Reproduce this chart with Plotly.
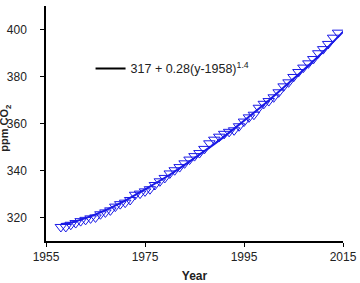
import plotly.graph_objects as go

years = list(range(1958, 2015))
co2 = [315.97, 315.97, 316.91, 317.64, 318.45, 318.99, 319.62, 320.04, 321.38, 322.16,
       323.04, 324.62, 325.68, 326.32, 327.45, 329.68, 330.18, 331.11, 332.04, 333.83,
       335.40, 336.84, 338.75, 340.11, 341.45, 343.05, 344.65, 346.12, 347.42, 349.19,
       351.57, 353.12, 354.39, 355.61, 356.45, 357.10, 358.83, 360.82, 362.61, 363.73,
       366.70, 368.38, 369.55, 371.14, 373.28, 375.80, 377.52, 379.80, 381.90, 383.79,
       385.60, 387.43, 389.90, 391.65, 393.85, 396.52, 398.65]

# smooth curve
curve_years = [1958, 1960, 1965, 1970, 1975, 1980, 1985, 1990, 1995, 2000, 2005, 2010, 2015]
curve_vals = [317.2, 317.8, 321.3, 326.1, 332.0, 338.2, 345.3, 352.8, 361.2, 369.8, 379.0, 388.5, 399.0]

fit_label = "317 + 0.28(y-1958)<sup>1.4</sup>"
x_ticks = [1955, 1975, 1995, 2015]
y_ticks = [320, 340, 360, 380, 400]

blue = "#1a1ae6"
fig = go.Figure()
fig.add_trace(go.Scatter(
    x=years, y=co2, mode="markers",
    marker=dict(symbol="triangle-down-open", size=10, color=blue, line=dict(width=1)),
    showlegend=False,
))
fig.add_trace(go.Scatter(
    x=curve_years, y=curve_vals, mode="lines", line=dict(color=blue, width=2, shape="spline"),
    showlegend=False,
))
fig.add_trace(go.Scatter(
    x=[None], y=[None], mode="lines", line=dict(color="black", width=2),
    name=fit_label, showlegend=True,
))

axis_common = dict(
    showgrid=False, zeroline=False, showline=True, linecolor="black", linewidth=1.5,
    ticks="outside", ticklen=4, tickcolor="black", tickwidth=1, automargin=False,
    tickfont=dict(family="Arial, Liberation Sans", size=12, color="#222"),
)
fig.update_layout(
    width=360, height=283,
    margin=dict(l=46, r=17, t=6, b=42),
    paper_bgcolor="white", plot_bgcolor="white",
    font=dict(family="Arial, Liberation Sans", size=12, color="#222"),
    xaxis=dict(range=[1955, 2015], tickvals=x_ticks,
               title=dict(text="<b>Year</b>", font=dict(size=12), standoff=10), **axis_common),
    yaxis=dict(range=[310, 410], tickvals=y_ticks, ticklabelstandoff=11, **axis_common),
    legend=dict(x=0.15, y=0.732, xanchor="left", yanchor="middle",
                bgcolor="rgba(0,0,0,0)", font=dict(size=12.5), itemwidth=30),
    annotations=[dict(text="<b>ppm CO<sub>2</sub></b>", textangle=-90, showarrow=False,
                      xref="paper", yref="paper", x=-0.136, y=0.48,
                      xanchor="center", yanchor="middle", font=dict(size=11))],
)
fig.write_html("out.html")
